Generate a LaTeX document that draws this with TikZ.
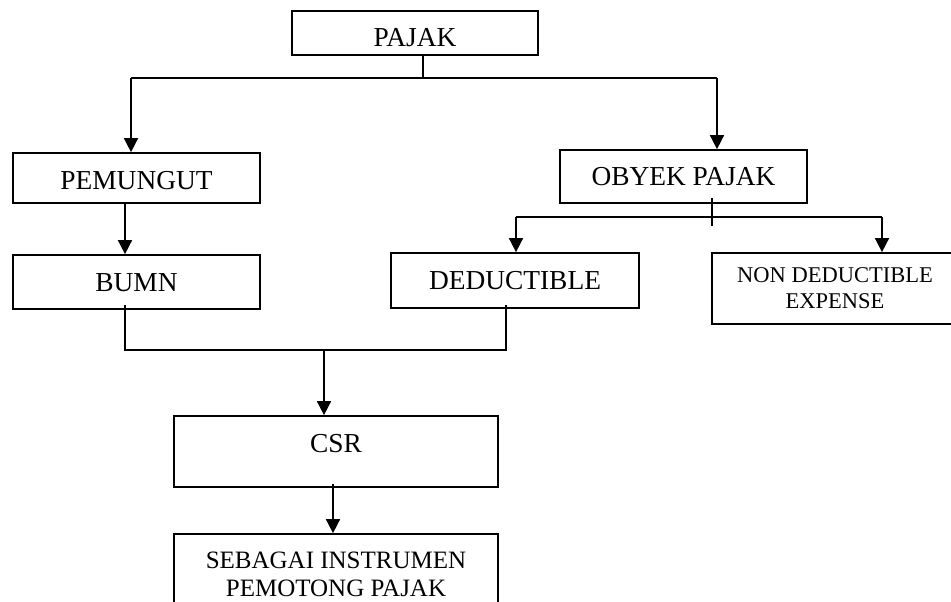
\documentclass[tikz,border=0pt]{standalone}
\usepackage{fontspec}
\setmainfont{Liberation Serif}
\usetikzlibrary{arrows.meta}
\begin{document}
\begin{tikzpicture}[x=1pt,y=-1pt,
  box/.style={draw, line width=1.7pt, rectangle, inner sep=0pt,
    font=\fontsize{27.4}{30}\selectfont, text height=18pt, text depth=0pt},
  boxtwo/.style={draw, line width=1.7pt, rectangle, inner sep=0pt, align=center},
  conn/.style={line width=1.6pt},
  arr/.style={conn, -{Triangle[length=14pt,width=14pt]}}]
\useasboundingbox (0,0) rectangle (951,602);
\clip (0,0) rectangle (951,602);

% boxes
\node[box, minimum width=246pt, minimum height=44pt, text height=27pt] (pajak) at (415,33) {PAJAK};
\node[box, minimum width=247pt, minimum height=50pt, text height=22pt] (pemungut) at (136.5,178) {PEMUNGUT};
\node[box, minimum width=247pt, minimum height=54pt] (bumn) at (136.5,282) {BUMN};
\node[box, minimum width=247pt, minimum height=53pt] (obyek) at (683.5,176.5) {OBYEK PAJAK};
\node[box, minimum width=248pt, minimum height=55pt] (dedu) at (515,280.5) {DEDUCTIBLE};
\node[boxtwo, minimum width=246pt, minimum height=71pt,
  font=\fontsize{22.5}{26}\selectfont] (nondedu) at (835,288.5) {NON DEDUCTIBLE\\EXPENSE};
\node[box, minimum width=324pt, minimum height=71pt, text height=20pt, text depth=18pt] (csr) at (336,451.5) {CSR};
\node[boxtwo, minimum width=324pt, minimum height=80pt,
  font=\fontsize{25}{28}\selectfont] (sebagai) at (336,574) {SEBAGAI INSTRUMEN\\PEMOTONG PAJAK};

% PAJAK -> PEMUNGUT / OBYEK PAJAK
\coordinate (t1) at (423,78);
\coordinate (t1l) at (131,78);
\coordinate (t1r) at (717,78);
\draw[conn] (pajak.south -| t1) -- (t1);
\draw[conn] (t1l) -- (t1r);
\draw[arr] (t1l) -- (t1l |- pemungut.north);
\draw[arr] (t1r) -- (t1r |- obyek.north);

% PEMUNGUT -> BUMN
\coordinate (p1) at (125,203);
\draw[arr] (pemungut.south -| p1) -- (p1 |- bumn.north);

% OBYEK PAJAK -> DEDUCTIBLE / NON DEDUCTIBLE
\coordinate (o0) at (712,198);
\coordinate (o1) at (712,226);
\coordinate (o2l) at (516,217);
\coordinate (o2r) at (882,217);
\draw[conn] (o0) -- (o1);
\draw[conn] (o2l) -- (o2r);
\draw[arr] (o2l) -- (o2l |- dedu.north);
\draw[arr] (o2r) -- (o2r |- nondedu.north);

% BUMN + DEDUCTIBLE -> CSR
\coordinate (b0) at (125,305);
\coordinate (b1) at (125,350);
\coordinate (d0) at (506,305);
\coordinate (d1) at (506,350);
\coordinate (c0) at (324,350);
\draw[conn] (b0) -- (b1) -- (d1) -- (d0);
\draw[arr] (c0) -- (c0 |- csr.north);

% CSR -> SEBAGAI
\coordinate (c1) at (333,484);
\draw[arr] (c1) -- (c1 |- sebagai.north);
\end{tikzpicture}
\end{document}
